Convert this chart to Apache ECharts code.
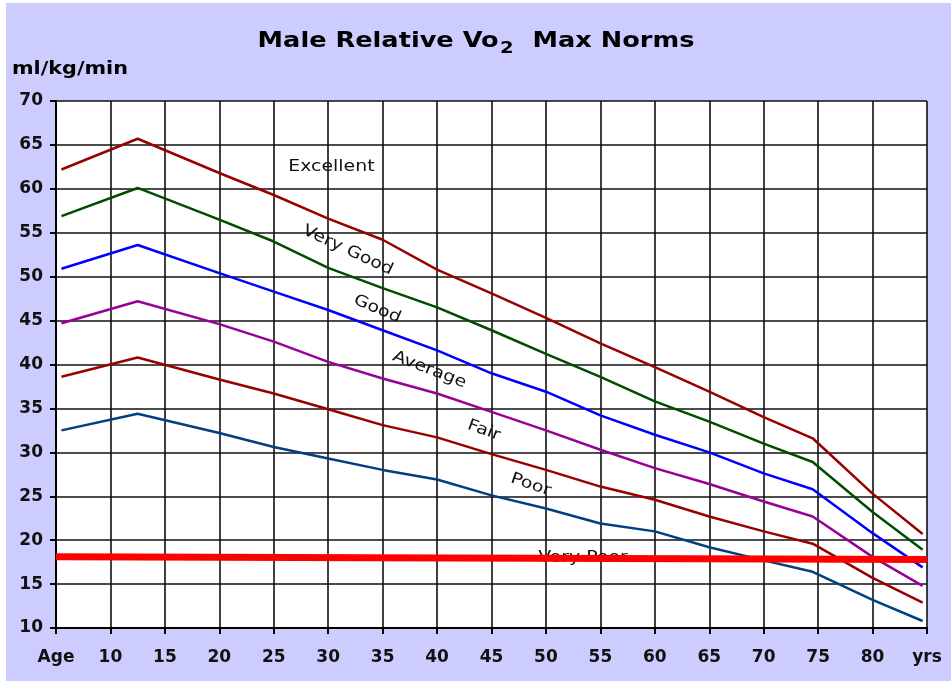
<!DOCTYPE html>
<html>
<head>
<meta charset="utf-8">
<title>Male Relative Vo2 Max Norms</title>
<script src="https://cdn.jsdelivr.net/npm/echarts@6/dist/echarts.min.js"></script>
<style>
  html, body { margin: 0; padding: 0; background: #fff; }
  #main { position: absolute; left: 6px; top: 3px; width: 945px; height: 678px; }
</style>
</head>
<body>
<div id="main"></div>
<script>
var ages = [5.5, 12.5, 20, 25, 30, 35, 40, 45, 50, 55, 60, 65, 70, 74.5, 80, 84.6];

var excellent = [62.2, 65.7, 61.8, 59.3, 56.6, 54.2, 50.8, 48.1, 45.3, 42.4, 39.7, 36.9, 34.0, 31.6, 25.3, 20.7];
var veryGood  = [56.9, 60.1, 56.5, 54.0, 51.0, 48.7, 46.5, 43.9, 41.2, 38.6, 35.8, 33.5, 31.0, 28.9, 23.2, 18.9];
var good      = [50.9, 53.6, 50.4, 48.3, 46.2, 43.9, 41.6, 39.0, 36.9, 34.2, 32.0, 30.0, 27.6, 25.8, 20.8, 16.9];
var average   = [44.7, 47.2, 44.6, 42.6, 40.3, 38.4, 36.7, 34.6, 32.5, 30.3, 28.2, 26.4, 24.4, 22.7, 18.1, 14.8];
var fair      = [38.6, 40.8, 38.3, 36.7, 34.9, 33.1, 31.7, 29.8, 28.0, 26.1, 24.6, 22.7, 21.0, 19.6, 15.7, 12.9];
var poor      = [32.5, 34.4, 32.2, 30.6, 29.3, 28.0, 26.9, 25.1, 23.6, 21.9, 21.0, 19.2, 17.7, 16.4, 13.2, 10.8];

// very poor threshold (red bar)
var veryPoorAges = [5, 85];
var veryPoorLine = [18.1, 17.8];

// band names, placed in data coords: [text, age, value, angle in degrees]
var bandLabels = [
  ['Excellent', 30.3, 62.5, 0],
  ['Very Good', 31.8, 53.0, 25],
  ['Good', 34.5, 46.3, 23],
  ['Average', 39.3, 39.4, 21],
  ['Fair', 44.3, 32.5, 20],
  ['Poor', 48.6, 26.3, 19],
  ['Very Poor', 53.4, 18.0, 0]
];

var xFirst = 5, xLast = 85;
var xEndLabels = { 5: 'Age', 85: 'yrs' };

function pairs(xs, ys) {
  var out = [];
  for (var i = 0; i < xs.length; i++) out.push([xs[i], ys[i]]);
  return out;
}

function curve(name, values, color) {
  return {
    name: name,
    type: 'line',
    data: pairs(ages, values),
    symbol: 'none',
    smooth: false,
    lineStyle: { color: color, width: 2.5 },
    z: 3
  };
}

var chart = echarts.init(document.getElementById('main'));

var font = 'DejaVu Sans';

chart.setOption({
  backgroundColor: '#ccccff',
  animation: false,
  grid: {
    left: 50, top: 98, right: 24, bottom: 53,
    show: true, backgroundColor: '#ffffff', borderWidth: 0
  },
  xAxis: {
    type: 'value',
    min: xFirst, max: xLast, interval: 5,
    axisLine: { lineStyle: { color: '#000', width: 2 } },
    axisTick: { show: true, length: 6, lineStyle: { color: '#000', width: 2 } },
    splitLine: { show: true, lineStyle: { color: '#111', width: 1.6 } },
    axisLabel: {
      margin: 21,
      color: '#111',
      fontFamily: font,
      fontWeight: 'bold',
      fontSize: 17,
      formatter: function (v) { return xEndLabels[v] || String(v); }
    }
  },
  yAxis: {
    type: 'value',
    min: 10, max: 70, interval: 5,
    axisLine: { show: true, lineStyle: { color: '#000', width: 2 } },
    axisTick: { show: true, length: 6, lineStyle: { color: '#000', width: 2 } },
    splitLine: { show: true, lineStyle: { color: '#111', width: 1.6 } },
    axisLabel: {
      margin: 13,
      color: '#111',
      fontFamily: font,
      fontWeight: 'bold',
      fontSize: 17
    }
  },
  series: [
    curve('Excellent', excellent, '#990000'),
    curve('Very Good', veryGood, '#004d00'),
    curve('Good', good, '#0000ff'),
    curve('Average', average, '#990099'),
    curve('Fair', fair, '#990000'),
    curve('Poor', poor, '#004080'),
    {
      name: 'Very Poor',
      type: 'line',
      data: pairs(veryPoorAges, veryPoorLine),
      symbol: 'none',
      lineStyle: { color: '#ff0000', width: 7 },
      z: 4
    }
  ]
});

// title, unit and band names as stretched text (source image is wide)
var gfx = [
  {
    type: 'text',
    x: 470, y: 39,
    scaleX: 1.22,
    z: 100,
    style: {
      text: '{a|Male Relative Vo}{s|2}{a|  Max Norms}',
      align: 'center',
      verticalAlign: 'middle',
      fill: '#000',
      rich: {
        a: { fontSize: 21, fontWeight: 'bold', fontFamily: font, fill: '#000' },
        s: { fontSize: 16, fontWeight: 'bold', fontFamily: font, fill: '#000', padding: [14, 1, 0, 1] }
      }
    }
  },
  {
    type: 'text',
    x: 6, y: 67,
    scaleX: 1.22,
    z: 100,
    style: {
      text: 'ml/kg/min',
      align: 'left',
      verticalAlign: 'middle',
      fontSize: 17, fontWeight: 'bold', fontFamily: font, fill: '#000'
    }
  }
];

bandLabels.forEach(function (b) {
  var p = chart.convertToPixel({ gridIndex: 0 }, [b[1], b[2]]);
  gfx.push({
    type: 'text',
    x: p[0], y: p[1],
    rotation: -b[3] * Math.PI / 180,
    scaleX: 1.18,
    z: b[0] === 'Very Poor' ? 1 : 100,
    style: {
      text: b[0],
      align: 'center',
      verticalAlign: 'middle',
      fontSize: 16, fontFamily: font, fill: '#111'
    }
  });
});

chart.setOption({ graphic: gfx });
</script>
</body>
</html>
